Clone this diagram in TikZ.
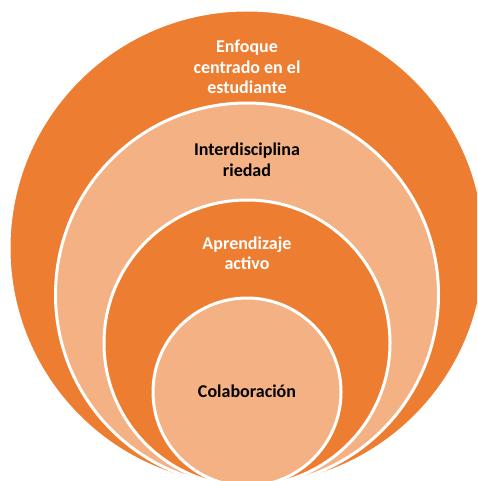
\documentclass[tikz,border=0pt]{standalone}
\usepackage{fontspec}
\setmainfont{Carlito}
\definecolor{darkor}{HTML}{ED7D31}
\definecolor{lightor}{HTML}{F4B183}
\tikzset{
  ring/.style={draw=white, line width=3pt},
  lbl/.style={align=center, inner sep=0pt, font=\bfseries\fontsize{18}{20.5}\selectfont},
}
\begin{document}
\begin{tikzpicture}[x=1pt,y=-1pt]
\useasboundingbox (0,0) rectangle (477,481);
\clip (0,0) rectangle (477,481);
\path[ring, fill=darkor] (247,248) circle[radius=238];
\path[ring, fill=lightor] (247,294.5) circle[radius=191.5];
\path[ring, fill=darkor] (247,343) circle[radius=143];
\path[ring, fill=lightor] (247,392) circle[radius=94];
\node[lbl, text=white] (t1) at (247,67) {Enfoque\\centrado en el\\estudiante};
\node[lbl, text=black] (t2) at (247,160) {Interdisciplina\\riedad};
\node[lbl, text=white] (t3) at (247,253) {Aprendizaje\\activo};
\node[lbl, text=black] (t4) at (247,391) {Colaboración};
\end{tikzpicture}
\end{document}
